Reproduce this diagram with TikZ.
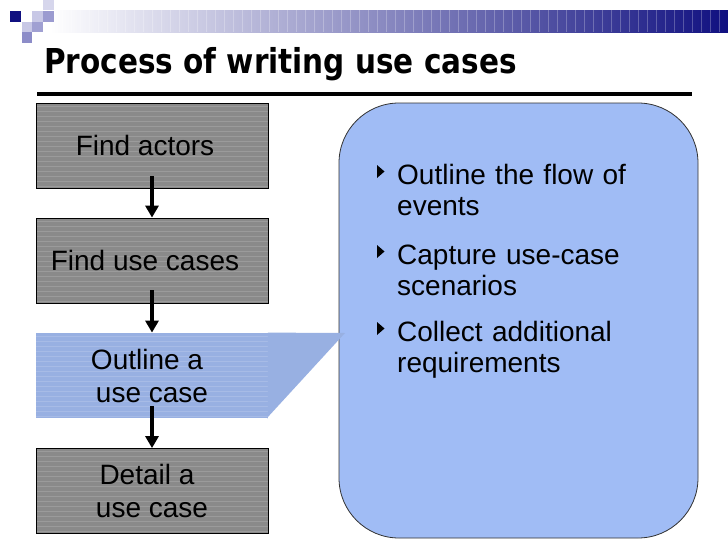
\documentclass[tikz,border=0pt]{standalone}
\usepackage{fontspec}
\setmainfont{Liberation Sans}
\newfontfamily\titlefont[FakeStretch=0.86]{DejaVu Sans}
\usetikzlibrary{arrows.meta}
\definecolor{navy}{RGB}{16,16,128}
\definecolor{boxgray}{RGB}{138,138,138}
\definecolor{panelblue}{RGB}{160,188,245}
\definecolor{stepblue}{RGB}{152,176,226}
\definecolor{sqa}{RGB}{214,214,236}
\definecolor{sqb}{RGB}{200,200,230}
\definecolor{sqc}{RGB}{155,155,208}
\definecolor{sqd}{RGB}{160,160,210}
\definecolor{sqe}{RGB}{140,140,200}
\begin{document}
\begin{tikzpicture}[x=1pt,y=-1pt]
\tikzstyle{every node}=[inner sep=0pt,font=\fontsize{28}{33}\selectfont]
\tikzstyle{stripes}=[path picture={\foreach \k in {3,8,...,83} \draw[white,opacity=0.15,line width=0.7pt] ([yshift=-\k pt]path picture bounding box.north west) -- ([yshift=-\k pt]path picture bounding box.north east);}]
\tikzstyle{stepbox}=[rectangle,draw=black,line width=0.8pt,fill=boxgray,minimum width=232pt,minimum height=85pt,align=center,stripes]
\tikzstyle{flow}=[line width=4pt,-{Triangle[length=12pt,width=13pt]}]
\tikzstyle{item}=[anchor=base west,text width=290pt,align=left,font=\fontsize{28}{31}\selectfont]
\fill[white] (0,0) rectangle (728,546);
\useasboundingbox (0,0) rectangle (728,546);
\shade[left color=white,right color=navy] (50,10) rectangle (728,32);
\foreach \x in {62,71,...,720} \draw[white,opacity=0.25,line width=0.6pt] (\x,10) -- (\x,32);
\fill[navy] (10,11) rectangle (21,22);
\fill[sqa] (43,0) rectangle (54,10);
\fill[sqb] (32,11) rectangle (43,22);
\fill[sqc] (43,11) rectangle (54,22);
\fill[sqb] (22,22) rectangle (32,32);
\fill[sqd] (32,22) rectangle (43,32);
\fill[sqe] (22,32) rectangle (32,43);
\node[anchor=base west,font=\titlefont\fontsize{34.3}{40}\selectfont\bfseries](t) at (44,73) {Process of writing use cases};
\draw[line width=4pt] (37,93.5) -- (692,93.5);
\node[rectangle,draw={rgb,255:red,50;green,50;blue,50},line width=0.8pt,fill=panelblue,rounded corners=60pt,minimum width=359pt,minimum height=435pt](p) at (518.5,320.5) {};
\node[stepbox](b0) at (152,145.5) {Find actors\hspace*{14pt}};
\node[stepbox](b1) at (152,260.5) {Find use cases\hspace*{14pt}};
\node[stepbox,draw=none,fill=stepblue](b2) at (152,375.5) {Outline a\hspace*{10pt}\\use case};
\fill[stepblue] ([xshift=-0.5pt]b2.north east) -- (345,333) -- (267,418) -- ([xshift=-0.5pt]b2.south east) -- cycle;
\node[stepbox](b3) at (152,491) {Detail a\hspace*{10pt}\\use case};
\draw[flow] ([yshift=12pt]b0.south) -- (b1.north);
\draw[flow] ([yshift=13pt]b1.south) -- (b2.north);
\draw[flow] ([yshift=12pt]b2.south) -- (b3.north);
\node[item](c0) at (397,184) {Outline the flow of\\events};
\node[item](c1) at (397,264) {Capture use-case\\scenarios};
\node[item](c2) at (397,341) {Collect additional\\requirements};
\foreach \n in {c0,c1,c2} \fill ([xshift=-20pt,yshift=6pt]\n.base west) -- ++(0,-13) -- ++(7.5,6.5) -- cycle;
\end{tikzpicture}
\end{document}
